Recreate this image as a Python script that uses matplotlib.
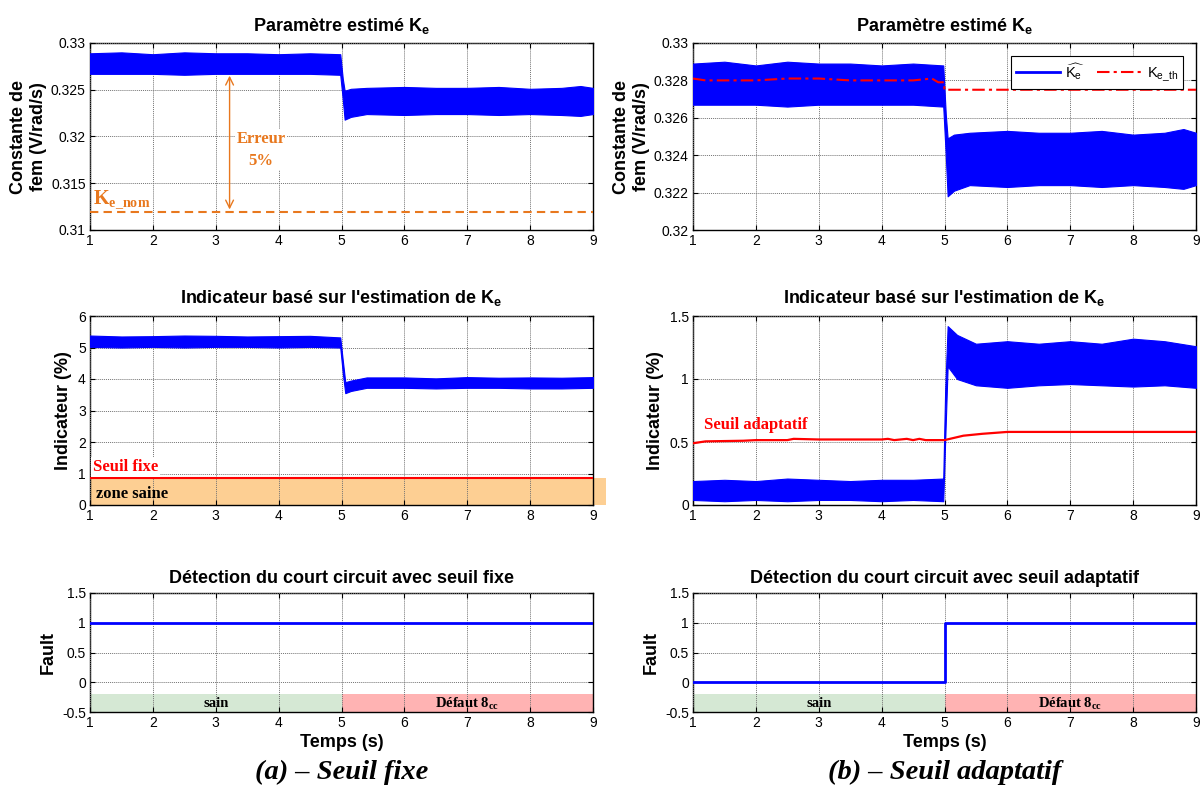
import matplotlib
matplotlib.use("Agg")
import matplotlib.pyplot as plt
from matplotlib.ticker import FuncFormatter, MultipleLocator
from matplotlib.patches import Rectangle

# ---------------- data ----------------
# estimated Ke: noisy band described by its upper / lower envelope
ke_t  = [1.0, 1.5, 2.0, 2.5, 3.0, 3.5, 4.0, 4.5, 4.98, 5.02, 5.05, 5.15, 5.4, 6.0, 6.5, 7.0, 7.5, 8.0, 8.5, 8.8, 9.0]
ke_hi = [0.3289, 0.3290, 0.3288, 0.3290, 0.3289, 0.3289, 0.3288, 0.3289, 0.3288, 0.3262, 0.3249, 0.3251, 0.3252, 0.3253, 0.3252, 0.3252, 0.3253, 0.3251, 0.3252, 0.3254, 0.3252]
ke_lo = [0.3267, 0.3267, 0.3267, 0.3266, 0.3267, 0.3267, 0.3267, 0.3267, 0.3266, 0.3240, 0.3218, 0.3221, 0.3224, 0.3223, 0.3224, 0.3224, 0.3223, 0.3224, 0.3223, 0.3222, 0.3224]

ke_nom = 0.3119

# theoretical Ke (right panel, dash-dot)
keth_t = [1.0, 1.2, 1.5, 2.0, 2.5, 3.0, 3.5, 4.0, 4.5, 4.8, 4.9, 4.99, 5.0, 9.0]
keth_v = [0.3281, 0.3280, 0.3280, 0.3280, 0.3281, 0.3281, 0.3280, 0.3280, 0.3280, 0.3281, 0.3279, 0.3279, 0.3275, 0.3275]

# indicator, fixed threshold (left middle)
ind_a_t  = [1.0, 1.5, 2.0, 2.5, 3.0, 3.5, 4.0, 4.5, 4.98, 5.02, 5.06, 5.15, 5.4, 6.0, 6.5, 7.0, 7.5, 8.0, 8.5, 9.0]
ind_a_hi = [5.38, 5.35, 5.36, 5.38, 5.37, 5.35, 5.36, 5.37, 5.32, 4.6, 3.9, 3.95, 4.05, 4.05, 4.02, 4.06, 4.04, 4.05, 4.04, 4.06]
ind_a_lo = [5.02, 5.0, 5.02, 5.0, 5.02, 5.02, 5.0, 5.02, 5.0, 4.2, 3.55, 3.62, 3.72, 3.72, 3.7, 3.72, 3.72, 3.7, 3.7, 3.72]
seuil_fixe = 0.85

# indicator, adaptive threshold (right middle)
ind_b_t  = [1.0, 1.5, 2.0, 2.5, 3.0, 3.5, 4.0, 4.5, 4.98, 5.01, 5.05, 5.2, 5.5, 6.0, 6.5, 7.0, 7.5, 8.0, 8.5, 9.0]
ind_b_hi = [0.19, 0.2, 0.19, 0.21, 0.2, 0.19, 0.2, 0.2, 0.21, 0.9, 1.42, 1.35, 1.28, 1.3, 1.28, 1.3, 1.28, 1.32, 1.3, 1.26]
ind_b_lo = [0.04, 0.03, 0.04, 0.03, 0.04, 0.04, 0.03, 0.04, 0.03, 0.5, 1.1, 1.0, 0.95, 0.93, 0.95, 0.96, 0.95, 0.94, 0.95, 0.93]

seuil_t = [1.0, 1.2, 1.8, 2.0, 2.5, 2.6, 3.0, 3.5, 4.0, 4.1, 4.2, 4.4, 4.5, 4.6, 4.7, 4.8, 5.0, 5.3, 5.6, 6.0, 9.0]
seuil_v = [0.49, 0.505, 0.51, 0.515, 0.515, 0.525, 0.52, 0.52, 0.52, 0.525, 0.515, 0.525, 0.515, 0.525, 0.515, 0.515, 0.515, 0.55, 0.565, 0.58, 0.58]

# fault flags
fault_a_t = [1.0, 9.0]
fault_a_v = [1, 1]
fault_b_t = [1.0, 5.0, 5.0, 9.0]
fault_b_v = [0, 0, 1, 1]

xticks = [1, 2, 3, 4, 5, 6, 7, 8, 9]

# ---------------- style ----------------
plt.rcParams['font.family'] = ['Liberation Sans', 'DejaVu Sans']
plt.rcParams['mathtext.default'] = 'regular'

BLUE = '#0000FF'
RED = '#FF0000'
ORANGE = '#E8781E'
SERIF = 'Liberation Serif'

fig = plt.figure(figsize=(12.03, 7.87), dpi=100)

W = 503 / 1203
colx = [90 / 1203, 693 / 1203]
rows = [(230, 187), (505, 189), (712, 119)]

def mk(col, row):
    ybot, h = rows[row]
    ax = fig.add_axes([colx[col], (787 - ybot) / 787, W, h / 787])
    ax.set_xlim(1, 9)
    ax.set_xticks(xticks)
    ax.tick_params(direction='in', top=True, right=True, labelsize=10, length=3.5, width=0.8, pad=3)
    ax.grid(True, color='0.45', linestyle=(0, (1, 1)), linewidth=0.7)
    ax.set_axisbelow(False)
    for s in ax.spines.values():
        s.set_linewidth(1.0)
    ax.yaxis.set_major_formatter(FuncFormatter(lambda v, p: '%g' % round(v, 6)))
    return ax

TFS = 13
LFS = 13

axes = [[mk(c, r) for r in range(3)] for c in range(2)]

# ---- top left
ax = axes[0][0]
ax.set_ylim(0.31, 0.33)
ax.yaxis.set_major_locator(MultipleLocator(0.005))
ax.fill_between(ke_t, ke_lo, ke_hi, color=BLUE, lw=0.8, zorder=3)
ax.axhline(ke_nom, color=ORANGE, ls=(0, (4, 2.5)), lw=1.5, zorder=3)
ax.annotate('', xy=(3.22, ke_nom), xytext=(3.22, 0.3268),
            arrowprops=dict(arrowstyle='<->', color=ORANGE, lw=1.0, mutation_scale=14), zorder=4)
ax.text(3.72, 0.3186, 'Erreur\n5%', color=ORANGE, fontfamily=SERIF, fontweight='bold',
        fontsize=12, ha='center', va='center', linespacing=1.5,
        bbox=dict(facecolor='white', edgecolor='none', pad=1), zorder=4)
ax.text(1.05, 0.3121, r'K$_{e\_nom}$', color=ORANGE, fontfamily=SERIF, fontweight='bold',
        fontsize=14.5, ha='left', va='bottom', zorder=4)
ax.set_title(r"Paramètre estimé K$_e$", fontsize=TFS, fontweight='bold', pad=9)
ax.set_ylabel('Constante de\nfem (V/rad/s)', fontsize=LFS, fontweight='bold', labelpad=3)

# ---- top right
ax = axes[1][0]
ax.set_ylim(0.32, 0.33)
ax.yaxis.set_major_locator(MultipleLocator(0.002))
ax.fill_between(ke_t, ke_lo, ke_hi, color=BLUE, lw=0.8, zorder=3)
ax.plot([], [], color=BLUE, lw=2, label=r'$\widehat{K_e}$')
ax.plot(keth_t, keth_v, color=RED, lw=1.5, ls=(0, (6, 2, 1.5, 2)), zorder=4, label=r'K$_{e\_th}$')
leg = ax.legend(loc='upper right', ncol=2, fontsize=10.5, fancybox=False, edgecolor='black',
                framealpha=1, handlelength=3.0, borderaxespad=0.9, columnspacing=0.8,
                handletextpad=0.4, borderpad=0.35)
leg.get_frame().set_linewidth(0.8)
ax.set_title(r"Paramètre estimé K$_e$", fontsize=TFS, fontweight='bold', pad=9)
ax.set_ylabel('Constante de\nfem (V/rad/s)', fontsize=LFS, fontweight='bold', labelpad=3)

# ---- middle left
ax = axes[0][1]
ax.set_ylim(0, 6)
ax.yaxis.set_major_locator(MultipleLocator(1))
ax.fill_between(ind_a_t, ind_a_lo, ind_a_hi, color=BLUE, lw=0.8, zorder=3)
ax.add_patch(Rectangle((1, 0), 8.2, seuil_fixe, transform=ax.transData, facecolor='#FDC478',
                       edgecolor='none', alpha=0.8, clip_on=False, zorder=2.5))
ax.axhline(seuil_fixe, color=RED, lw=1.5, zorder=3)
ax.text(1.05, 1.2, 'Seuil fixe', color=RED, fontfamily=SERIF, fontweight='bold', fontsize=12,
        ha='left', va='center', bbox=dict(facecolor='white', edgecolor='none', pad=1.5), zorder=4)
ax.text(1.1, 0.36, 'zone saine', color='black', fontfamily=SERIF, fontweight='bold', fontsize=12,
        ha='left', va='center', zorder=4)
ax.set_title(r"Indicateur basé sur l'estimation de K$_e$", fontsize=TFS, fontweight='bold', pad=9)
ax.set_ylabel('Indicateur (%)', fontsize=LFS, fontweight='bold', labelpad=4)

# ---- middle right
ax = axes[1][1]
ax.set_ylim(0, 1.5)
ax.yaxis.set_major_locator(MultipleLocator(0.5))
ax.fill_between(ind_b_t, ind_b_lo, ind_b_hi, color=BLUE, lw=0.8, zorder=3)
ax.plot(seuil_t, seuil_v, color=RED, lw=1.6, zorder=4)
ax.text(1.17, 0.635, 'Seuil adaptatif', color=RED, fontfamily=SERIF, fontweight='bold', fontsize=12,
        ha='left', va='center', zorder=4)
ax.set_title(r"Indicateur basé sur l'estimation de K$_e$", fontsize=TFS, fontweight='bold', pad=9)
ax.set_ylabel('Indicateur (%)', fontsize=LFS, fontweight='bold', labelpad=4)

# ---- bottom rows
for c, (ft, fv, ttl) in enumerate([(fault_a_t, fault_a_v, 'Détection du court circuit avec seuil fixe'),
                                   (fault_b_t, fault_b_v, 'Détection du court circuit avec seuil adaptatif')]):
    ax = axes[c][2]
    ax.set_ylim(-0.5, 1.5)
    ax.yaxis.set_major_locator(MultipleLocator(0.5))
    ax.add_patch(Rectangle((1, -0.5), 4, 0.3, facecolor='#D5E8D4', edgecolor='none', zorder=1))
    ax.add_patch(Rectangle((5, -0.5), 4, 0.3, facecolor='#FFB3B3', edgecolor='none', zorder=1))
    ax.plot(ft, fv, color=BLUE, lw=2, zorder=4)
    ax.text(3, -0.36, 'sain', fontfamily=SERIF, fontweight='bold', fontsize=10.5, ha='center', va='center', zorder=4)
    ax.text(7, -0.36, r'Défaut 8$_{cc}$', fontfamily=SERIF, fontweight='bold', fontsize=10.5,
            ha='center', va='center', zorder=4)
    ax.set_title(ttl, fontsize=TFS, fontweight='bold', pad=7)
    ax.set_ylabel('Fault', fontsize=LFS, fontweight='bold', labelpad=4)
    ax.set_xlabel('Temps (s)', fontsize=LFS, fontweight='bold', labelpad=3)

fig.text((90 + 593) / 2 / 1203, 1 - 772 / 787, '(a) – Seuil fixe', fontfamily=SERIF, fontweight='bold',
         fontstyle='italic', fontsize=20.5, ha='center', va='center')
fig.text((693 + 1196) / 2 / 1203, 1 - 772 / 787, '(b) – Seuil adaptatif', fontfamily=SERIF, fontweight='bold',
         fontstyle='italic', fontsize=20.5, ha='center', va='center')

fig.savefig('out.png', dpi=100)
